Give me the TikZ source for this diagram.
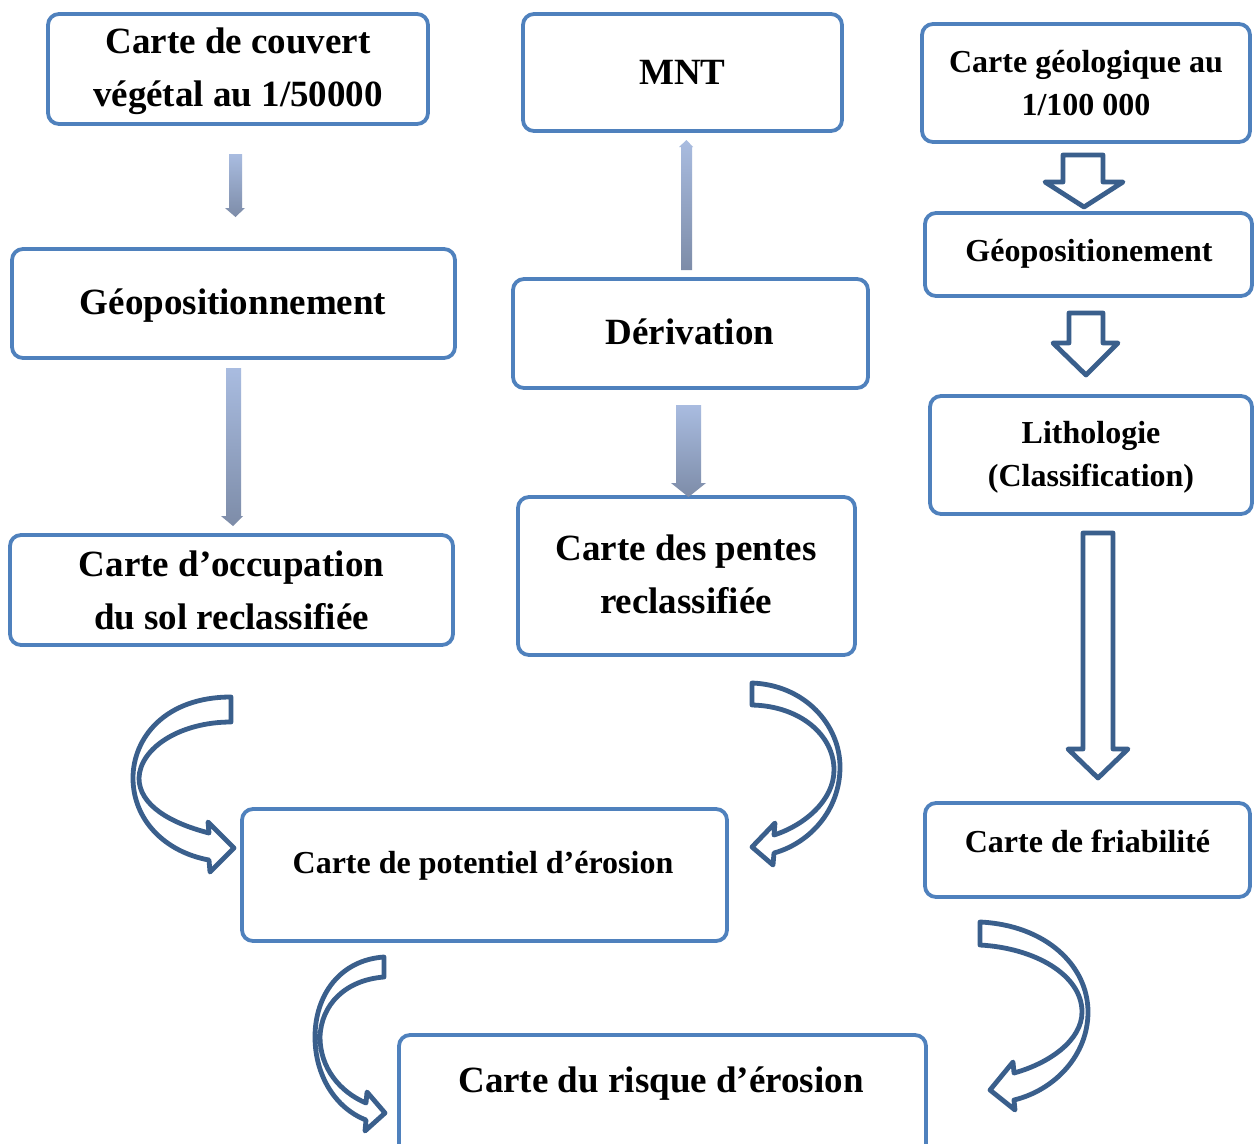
\documentclass[tikz,border=0pt]{standalone}
\usepackage{fontspec}
\setmainfont{Liberation Serif}
\definecolor{boxblue}{HTML}{4F81BD}
\definecolor{arrowblue}{HTML}{3A5F8C}
\definecolor{shadetop}{HTML}{A9BCE0}
\definecolor{shadebot}{HTML}{7D8CA8}
\tikzset{
  box/.style={draw=boxblue, line width=3.8pt, rounded corners=11pt, fill=white,
              inner sep=0pt, align=center},
  big/.style={font=\fontsize{37}{53}\selectfont\bfseries, align=center},
  mid/.style={font=\fontsize{32}{43}\selectfont\bfseries, align=center},
  hollow/.style={draw=arrowblue, line width=4.8pt, line join=round, fill=white},
  shaded/.style={top color=shadetop, bottom color=shadebot, draw=none},
}
\begin{document}
\begin{tikzpicture}[x=1pt, y=-1pt]
\useasboundingbox (0,0) rectangle (1254,1144);
\clip (0,0) rectangle (1254,1144);
\fill[white] (0,0) rectangle (1254,1144);

% left column
\node[box, minimum width=380pt, minimum height=110pt] (couvert) at (238,69) {};
\node[big] (couverttxt) at (238,71.5) {Carte de couvert\\végétal au 1/50000};
\node[box, minimum width=443pt, minimum height=109pt] (geopos) at (233.5,303.5) {};
\node[big] (geopostxt) at (233,306) {Géopositionnement};
\node[box, big, minimum width=443pt, minimum height=110pt] (occup) at (231.5,590)
  {Carte d’occupation\\du sol reclassifiée};

% middle column
\node[box, big, minimum width=319pt, minimum height=117pt] (mnt) at (682.5,72.5) {MNT};
\node[box, minimum width=355pt, minimum height=109pt] (deriv) at (690.5,333.5) {};
\node[big] (derivtxt) at (690,332) {Dérivation};
\node[box, minimum width=337pt, minimum height=158pt] (pentes) at (686.5,576) {};
\node[big] (pentestxt) at (686,574.5) {Carte des pentes\\reclassifiée};

% right column
\node[box, mid, minimum width=328pt, minimum height=118pt] (geol) at (1086,83)
  {Carte géologique au\\1/100 000};
\node[box, minimum width=327pt, minimum height=83pt] (geoposR) at (1088.5,254.5) {};
\node[mid] (geoposRtxt) at (1089,254) {Géopositionement};
\node[box, minimum width=322pt, minimum height=118pt] (litho) at (1091,455) {};
\node[mid] (lithotxt) at (1091,457.5) {Lithologie\\(Classification)};
\node[box, minimum width=325pt, minimum height=94pt] (friab) at (1087.5,850) {};
\node[mid] (friabtxt) at (1087.5,841) {Carte de friabilité};

% results
\node[box, minimum width=485pt, minimum height=132pt] (potent) at (484.5,875) {};
\node[mid] (potenttxt) at (483,866) {Carte de potentiel d’érosion};
\node[box, minimum width=527pt, minimum height=125pt] (risque) at (662.5,1097.5) {};
\node[big] (risquetxt) at (661,1084) {Carte du risque d’érosion};

% shaded straight arrows
\shade[shaded] (229,154) -- (242,154) -- (242,208) -- (245,208) -- (235.5,217)
  -- (225,208) -- (229,208) -- cycle;
\shade[shaded] (226,368) -- (241,368) -- (241,516) -- (243,516) -- (233,526)
  -- (221,516) -- (226,516) -- cycle;
\shade[shaded] (681,270) -- (692,270) -- (692,147) -- (693,147) -- (686.5,140)
  -- (679,147) -- (681,147) -- cycle;
\shade[shaded] (676,405) -- (701,405) -- (701,483) -- (706,483) -- (688.5,497)
  -- (671,483) -- (676,483) -- cycle;

% outlined straight arrows
\draw[hollow] (1063,155) -- (1103,155) -- (1103,182) -- (1123,182) -- (1084,207)
  -- (1045,182) -- (1063,182) -- cycle;
\draw[hollow] (1069,313) -- (1103,313) -- (1103,343) -- (1118,343) -- (1086,375)
  -- (1053,343) -- (1069,343) -- cycle;
\draw[hollow] (1083,533) -- (1113,533) -- (1113,749) -- (1128,749) -- (1098,778)
  -- (1068,749) -- (1083,749) -- cycle;

% curved arrows
\draw[hollow] (231,697) -- (231,722) .. controls (180,722) and (140,748) .. (139,778)
  .. controls (139,805) and (170,823) .. (209,833) -- (208,822) -- (234,848)
  -- (210,872) -- (209,860) .. controls (165,852) and (133,820) .. (133,778)
  .. controls (133,738) and (165,697) .. (231,697) -- cycle;
\draw[hollow] (752,683) .. controls (805,685) and (840,725) .. (840,767)
  .. controls (840,810) and (810,843) .. (774,853) -- (773,865) -- (752,847)
  -- (775,823) -- (774,835) .. controls (805,825) and (834,800) .. (834,770)
  .. controls (834,735) and (800,706) .. (752,705) -- cycle;
\draw[hollow] (384,957) -- (384,977) .. controls (345,980) and (321,1005) .. (320,1037)
  .. controls (320,1068) and (340,1092) .. (366,1103) -- (367,1092) -- (385,1113)
  -- (365,1131) -- (366,1120) .. controls (335,1108) and (315,1075) .. (315,1037)
  .. controls (315,995) and (340,960) .. (384,957) -- cycle;
\draw[hollow] (980,922) .. controls (1045,925) and (1088,965) .. (1088,1012)
  .. controls (1088,1055) and (1055,1090) .. (1014,1100) -- (1015,1110) -- (990,1090)
  -- (1013,1062) -- (1014,1073) .. controls (1050,1063) and (1082,1040) .. (1082,1012)
  .. controls (1082,975) and (1035,948) .. (980,945) -- cycle;
\end{tikzpicture}
\end{document}
